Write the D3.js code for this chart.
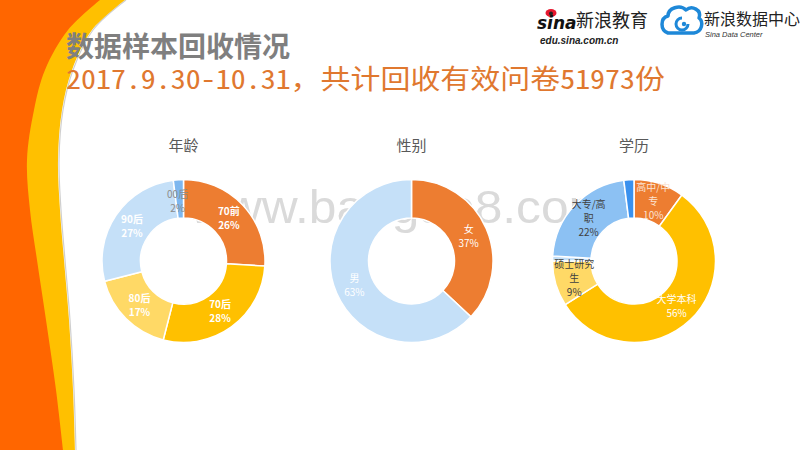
<!DOCTYPE html>
<html><head><meta charset="utf-8">
<script src="https://cdn.jsdelivr.net/npm/d3@7"></script>
<style>html,body{margin:0;padding:0;background:#fff;}svg{display:block;}</style>
</head><body>
<svg id="c" width="800" height="450"></svg>
<script>
// ---- data ----
const ageCats = ["70前","70后","80后","90后","00后"];
const ageVals = [26,28,17,27,2];
const genderCats = ["女","男"];
const genderVals = [37,63];
const eduCats = ["高中/中专","大学本科","硕士研究生","博士","大专/高职","其他"];
const eduVals = [10,56,9,1,22,2];
const eduLabelLines = [["高中/中","专"],["大学本科"],["硕士研究","生"],[],["大专/高","职"],[]];
const chartTitles = ["年龄","性别","学历"];
const titleText = "数据样本回收情况";
const subtitleText = "2017.9.30-10.31，共计回收有效问卷51973份";

const svg = d3.select("#c");
const FONT = "'Noto Sans CJK SC','Noto Sans',sans-serif";

// ---- left decoration ----
const yEdge = [[125,0],[92,30],[72,70],[62,110],[58,160],[60,210],[64,260],[69,320],[73,390],[75,450]];
const oEdge = [[100,0],[68,30],[45,70],[34,110],[27,160],[30,210],[37,260],[46,320],[56,390],[63,450]];
const lineGen = d3.line().curve(d3.curveCatmullRom);
function shapePath(edge){ return "M0,0L" + lineGen(edge).slice(1) + "L0,450Z"; }
svg.append("path").attr("d", lineGen(yEdge.map(d=>[d[0]+1,d[1]]))).attr("fill","none").attr("stroke","#cfcfcf").attr("stroke-width",1.2);
svg.append("path").attr("d", shapePath(yEdge)).attr("fill","#FFC000");
svg.append("path").attr("d", shapePath(oEdge)).attr("fill","#FF6600");

// ---- titles ----
svg.append("text").attr("x",66).attr("y",57).attr("font-family",FONT).attr("font-size",28).attr("font-weight","bold")
  .attr("fill","#7F7F7F").text(titleText);
svg.append("text").attr("x",66).attr("y",89).attr("font-family","'Noto Sans Mono CJK SC','Noto Sans CJK SC',monospace").attr("font-size",27)
  .attr("fill","#E0782F").attr("textLength",599).attr("lengthAdjust","spacingAndGlyphs").text(subtitleText);

// ---- logos ----
const lg = svg.append("g");
lg.append("ellipse").attr("cx",551).attr("cy",13).attr("rx",5.5).attr("ry",4).attr("fill","#E6162D");
lg.append("circle").attr("cx",551).attr("cy",13.5).attr("r",2).attr("fill","#222");
lg.append("text").attr("x",537).attr("y",29).attr("font-family","'DejaVu Sans',sans-serif").attr("font-size",17)
  .attr("font-weight","bold").attr("font-style","italic").attr("fill","#111").text("sina");
lg.append("text").attr("x",576).attr("y",27).attr("font-family",FONT).attr("font-size",18).attr("fill","#222").text("新浪教育");
lg.append("text").attr("x",540).attr("y",44).attr("font-family","'Liberation Sans',sans-serif").attr("font-size",10)
  .attr("font-weight","bold").attr("font-style","italic").attr("fill","#222").text("edu.sina.com.cn");
lg.append("path").attr("d","M668,33 C660,30 660,18 668,16 C668,8 680,4 686,10 C692,5 702,10 699,18 C704,22 702,32 694,33 Z")
  .attr("fill","none").attr("stroke","#1E88D8").attr("stroke-width",3.5).attr("stroke-linejoin","round");
lg.append("path").attr("d","M688,24 A6,6 0 1 1 682,18").attr("fill","none").attr("stroke","#1E88D8").attr("stroke-width",3);
lg.append("circle").attr("cx",684).attr("cy",24).attr("r",2.2).attr("fill","#1E88D8");
lg.append("text").attr("x",704).attr("y",25).attr("font-family",FONT).attr("font-size",16).attr("fill","#222").text("新浪数据中心");
lg.append("text").attr("x",705).attr("y",37).attr("font-family","'Liberation Sans',sans-serif").attr("font-size",7.5)
  .attr("font-style","italic").attr("fill","#333").text("Sina Data Center");

// ---- watermark (behind the charts) ----
svg.append("text").attr("x",190).attr("y",223).attr("font-family","'Liberation Sans',sans-serif").attr("font-size",47)
  .attr("fill","#DADADA").attr("textLength",420).attr("lengthAdjust","spacingAndGlyphs").text("www.baogao8.com");

// ---- donuts ----
const inner = 43, outer = 81.5;
const arc = d3.arc().innerRadius(inner).outerRadius(outer);
const pie = d3.pie().sort(null).value(d=>d.v);

function donut(cx, title, cats, vals, colors, labelFn){
  const g = svg.append("g").attr("transform",`translate(${cx},261)`);
  svg.append("text").attr("x",cx).attr("y",151).attr("text-anchor","middle").attr("font-family",FONT)
    .attr("font-size",15).attr("fill","#595959").text(title);
  const data = pie(cats.map((c,i)=>({c, v: vals[i], i})));
  g.selectAll("path.s").data(data).join("path").attr("class","s").attr("d",arc)
    .attr("fill",d=>colors[d.index]).attr("stroke","#fff").attr("stroke-width",1.5);
  data.forEach(d=>{
    const info = labelFn(d);
    if(!info) return;
    const [x,y] = arc.centroid(d);
    const n = info.lines.length;
    const t = g.append("text").attr("text-anchor","middle").attr("font-family",FONT).attr("font-size",10)
      .attr("fill",info.color).attr("font-weight",info.bold?"bold":"normal");
    info.lines.forEach((ln,k)=>{
      t.append("tspan").attr("x",x+(info.dx||0)).attr("y",y + (k-(n-1)/2)*14 + 3.5 + (info.dy||0)).text(ln);
    });
  });
}

const ageColors = ["#ED7D31","#FFC000","#FFD966","#C5E0F8","#7DB7EF"];
donut(183.5, chartTitles[0], ageCats, ageVals, ageColors, d=>{
  const c = d.data.c, v = d.data.v + "%";
  if(c==="00后") return {lines:[c,v], color:"#8C8C8C", dx:-2, dy:3};
  return {lines:[c,v], color:"#fff", bold:true};
});

const genderColors = ["#ED7D31","#C5E0F8"];
donut(411.5, chartTitles[1], genderCats, genderVals, genderColors, d=>({lines:[d.data.c, d.data.v+"%"], color:"#fff"}));

const eduColors = ["#ED7D31","#FFC000","#FFD966","#C5E0F8","#8CC1F3","#3A91EE"];
const eduTextColors = ["#FBE3D3","#fff","#404040","#404040","#404040","#404040"];
donut(634, chartTitles[2], eduCats, eduVals, eduColors, d=>{
  const lines = eduLabelLines[d.index];
  if(!lines.length) return null;
  return {lines: lines.concat([d.data.v+"%"]), color: eduTextColors[d.index]};
});
</script>
</body></html>
